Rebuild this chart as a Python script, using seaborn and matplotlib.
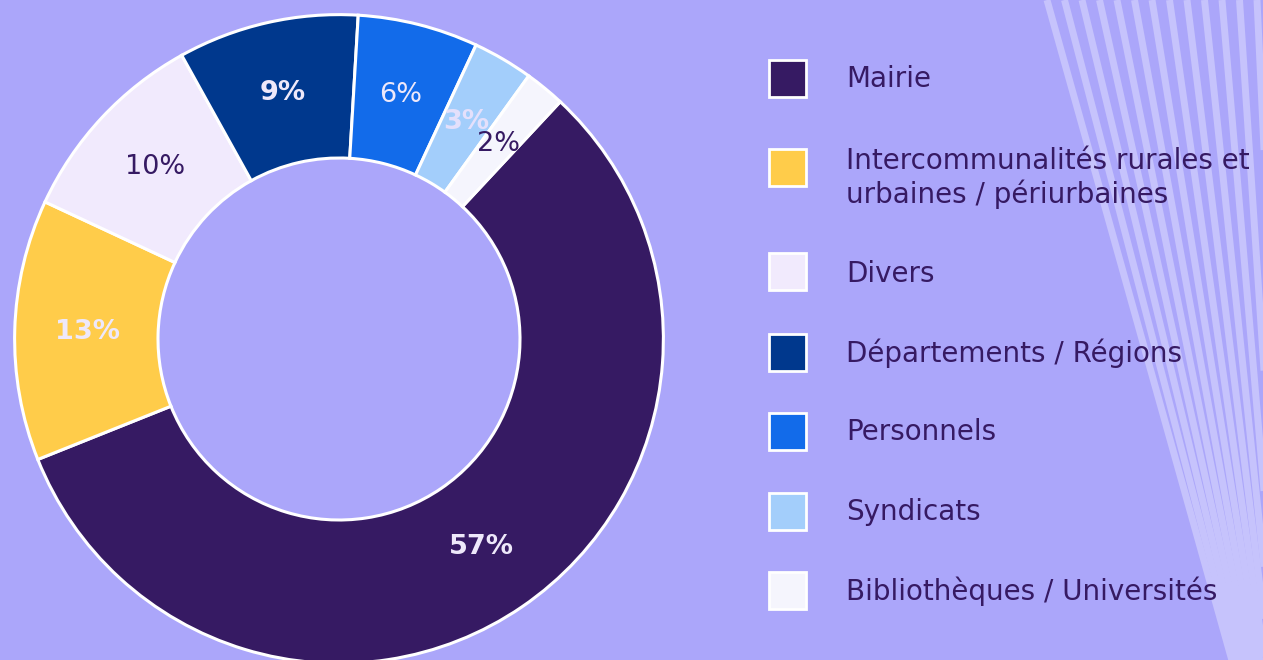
import matplotlib
matplotlib.use("Agg")
import matplotlib.pyplot as plt
from matplotlib.patches import Rectangle
import numpy as np
import seaborn as sns

# ---- data ----
categories = ["Mairie",
              "Intercommunalités rurales et\nurbaines / périurbaines",
              "Divers",
              "Départements / Régions",
              "Personnels",
              "Syndicats",
              "Bibliothèques / Universités"]
values = [57, 13, 10, 9, 6, 3, 2]
colors = ["#361A63", "#FFCC4A", "#F1EAFD", "#00388D", "#126BEA", "#A3CEFB", "#F5F5FD"]
label_colors = ["#EEE8FA", "#EEE8FA", "#361A63", "#EEE8FA", "#EEE8FA", "#E4E0FB", "#361A63"]
label_weights = ["bold", "bold", "normal", "bold", "normal", "bold", "normal"]

BG = "#ABA6FA"
TEXT = "#361A63"
STRIPE = "#C6C3FC"

sns.set_theme(style="white")
plt.rcParams["font.family"] = ["DejaVu Sans"]

W, H = 1263, 660
fig = plt.figure(figsize=(W / 100, H / 100), dpi=100)
fig.patch.set_facecolor(BG)

# ---- decorative stripes (background) ----
deco = fig.add_axes([0, 0, 1, 1], zorder=0)
deco.set_xlim(0, W)
deco.set_ylim(H, 0)
deco.axis("off")
fx, fy = 1299, 900
for xt in np.arange(1047, 1320, 17.5):
    deco.plot([xt, fx], [0, fy], color=STRIPE, lw=5.0, solid_capstyle="butt")

# ---- donut ----
cx, cy, R = 339, 339, 326
ax = fig.add_axes([(cx - R) / W, (H - cy - R) / H, 2 * R / W, 2 * R / H], zorder=1)
wedges, texts, autotexts = ax.pie(
    values, colors=colors, startangle=47, counterclock=False,
    autopct=lambda p: f"{p:.0f}%", pctdistance=0.777,
    wedgeprops=dict(width=0.442, edgecolor="white", linewidth=2.2),
    textprops=dict(fontsize=19.5))
for t, c, w in zip(autotexts, label_colors, label_weights):
    t.set_color(c)
    t.set_fontweight(w)
ax.set_xlim(-1.005, 1.005)
ax.set_ylim(-1.005, 1.005)
ax.set_aspect("equal")
ax.axis("off")

# ---- legend (manual, figure pixel layout) ----
leg = fig.add_axes([0, 0, 1, 1], zorder=2)
leg.set_xlim(0, W)
leg.set_ylim(H, 0)
leg.axis("off")
row_text_y = [79, 178, 274, 353, 432, 512, 591]
row_box_y = [78, 167, 271, 352, 431, 511, 590]
box = 37
for lab, col, ty, by in zip(categories, colors, row_text_y, row_box_y):
    leg.add_patch(Rectangle((769, by - box / 2), box, box, facecolor=col,
                            edgecolor="white", lw=2.0))
    leg.text(846, ty, lab, fontsize=20, color=TEXT, va="center", ha="left",
             linespacing=1.2)

fig.savefig("out.png", dpi=100, facecolor=BG)
